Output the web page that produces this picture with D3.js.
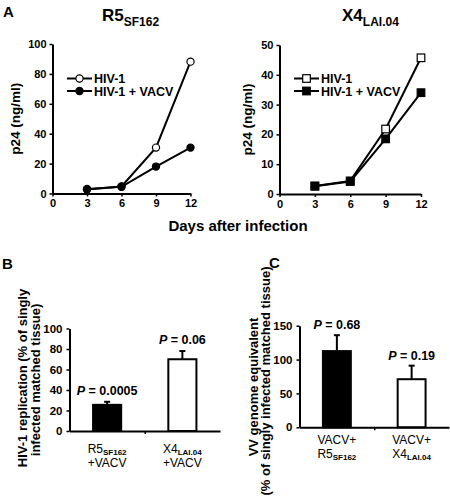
<!DOCTYPE html>
<html><head><meta charset="utf-8">
<script src="https://cdn.jsdelivr.net/npm/d3@7"></script>
<style>
body{margin:0;background:#fff;}
svg{display:block;}
text{font-family:Arial,"Liberation Sans",sans-serif;fill:#000;}
</style></head>
<body><svg id="c" width="450" height="496"></svg>
<script>
// ---------- DATA ----------
const days = [3, 6, 9, 12];
const xTicks = [0, 3, 6, 9, 12];
const r5HIV = [2.7, 4.7, 30.7, 88.2];
const r5HIVVACV = [3, 4.5, 18, 30.7];
const r5YTicks = [0, 20, 40, 60, 80, 100];
const x4HIV = [2.7, 4.4, 21.8, 45.7];
const x4HIVVACV = [2.6, 4.2, 18.5, 34];
const x4YTicks = [0, 10, 20, 30, 40, 50];
const legendLabels = ["HIV-1", "HIV-1 + VACV"];

const bCats = ["R5", "X4"];
const bValues = [25.5, 70];
const bErrors = [28.5, 78];
const bPLabels = ["0.0005", "0.06"];
const bYTicks = [0, 20, 40, 60, 80, 100];

const cCats = ["R5", "X4"];
const cValues = [112.5, 71];
const cErrors = [136, 91];
const cPLabels = ["0.68", "0.19"];
const cYTicks = [0, 50, 100, 150];

const svg = d3.select("#c");
const BOLD = "bold";

function styleAxis(g){
  g.selectAll("path.domain").attr("stroke","#000").attr("stroke-width",2);
  g.selectAll(".tick line").attr("stroke","#000").attr("stroke-width",1.5);
  g.selectAll(".tick text").attr("font-size",11).attr("font-weight",BOLD)
    .style("font-family","Arial, 'Liberation Sans', sans-serif");
}

function subText(sel, x, y, main, sub, size, subSize, anchor, weight){
  const t = sel.append("text").attr("x",x).attr("y",y)
    .attr("font-size",size).attr("font-weight",weight||BOLD)
    .attr("text-anchor",anchor||"middle");
  t.append("tspan").text(main);
  t.append("tspan").attr("font-size",subSize).attr("dy",size*0.3).text(sub);
  return t;
}

// ---------- PANEL A ----------
function linePanel(opts){
  const x = d3.scaleLinear().domain([0,12]).range(opts.xr);
  const y = d3.scaleLinear().domain([0,opts.ymax]).range(opts.yr);
  const g = svg.append("g");
  g.append("g").attr("transform",`translate(0,${opts.yr[0]})`)
    .call(d3.axisBottom(x).tickValues(xTicks).tickSizeInner(3).tickSizeOuter(0).tickPadding(3))
    .call(styleAxis);
  g.append("g").attr("transform",`translate(${opts.xr[0]},0)`)
    .call(d3.axisLeft(y).tickValues(opts.yTicks).tickSizeInner(3).tickSizeOuter(0).tickPadding(3))
    .call(styleAxis);
  const line = d3.line().x((d,i)=>x(days[i])).y(d=>y(d));
  const series = [{v:opts.s1, fill:"#fff"},{v:opts.s2, fill:"#000"}];
  series.forEach(s=>{
    g.append("path").datum(s.v).attr("d",line).attr("fill","none")
      .attr("stroke","#000").attr("stroke-width",2);
  });
  function marker(sel, cx, cy, fill){
    if(opts.shape==="circle"){
      sel.append("circle").attr("cx",cx).attr("cy",cy).attr("r",3.6)
        .attr("fill",fill).attr("stroke","#000").attr("stroke-width",1.2);
    } else {
      sel.append("rect").attr("x",cx-3.8).attr("y",cy-3.8).attr("width",7.6).attr("height",7.6)
        .attr("fill",fill).attr("stroke","#000").attr("stroke-width",1.2);
    }
  }
  series.forEach(s=>{
    s.v.forEach((d,i)=>marker(g, x(days[i]), y(d), s.fill));
  });
  const lx0 = opts.xr[0]+14.5, lx1 = lx0+25;
  [[legendLabels[0],"#fff",78.5],[legendLabels[1],"#000",91]].forEach(([lab,f,ly])=>{
    g.append("line").attr("x1",lx0).attr("x2",lx1).attr("y1",ly).attr("y2",ly)
      .attr("stroke","#000").attr("stroke-width",2);
    marker(g,(lx0+lx1)/2,ly,f);
    g.append("text").attr("x",lx1+2).attr("y",ly+4.5).attr("font-size",12.5)
      .attr("font-weight",BOLD).text(lab);
  });
  g.append("text").attr("transform",`translate(${opts.ylx},${(opts.yr[0]+opts.yr[1])/2}) rotate(-90)`)
    .attr("text-anchor","middle").attr("font-size",13.5).attr("font-weight",BOLD).text("p24 (ng/ml)");
  subText(g, opts.titleX, 21, opts.title, opts.titleSub, 17, 12, "start");
}

linePanel({xr:[52.5,190.5], yr:[193.5,44], ymax:100, yTicks:r5YTicks, s1:r5HIV, s2:r5HIVVACV,
  shape:"circle", ylx:20, titleX:102, title:"R5", titleSub:"SF162"});
linePanel({xr:[279.5,421], yr:[194,45], ymax:50, yTicks:x4YTicks, s1:x4HIV, s2:x4HIVVACV,
  shape:"square", ylx:252, titleX:342, title:"X4", titleSub:"LAI.04"});

svg.append("text").attr("x",3).attr("y",17).attr("font-size",15).attr("font-weight",BOLD).text("A");
svg.append("text").attr("x",238).attr("y",231).attr("text-anchor","middle")
  .attr("font-size",15).attr("font-weight",BOLD).text("Days after infection");
svg.append("text").attr("x",2).attr("y",269).attr("font-size",15).attr("font-weight",BOLD).text("B");
svg.append("text").attr("x",269).attr("y",268).attr("font-size",15).attr("font-weight",BOLD).text("C");

// ---------- BAR PANELS ----------
function barPanel(opts){
  const x = d3.scaleBand().domain(opts.cats).range(opts.xr).paddingInner(0.6).paddingOuter(0.3);
  const y = d3.scaleLinear().domain([0,opts.ymax]).range(opts.yr);
  const g = svg.append("g");
  const fills = ["#000","#fff"];
  opts.cats.forEach((c,i)=>{
    const cx = x(c)+x.bandwidth()/2;
    g.append("line").attr("x1",cx).attr("x2",cx).attr("y1",y(opts.values[i])).attr("y2",y(opts.errors[i]))
      .attr("stroke","#000").attr("stroke-width",2);
    g.append("line").attr("x1",cx-3).attr("x2",cx+3).attr("y1",y(opts.errors[i])).attr("y2",y(opts.errors[i]))
      .attr("stroke","#000").attr("stroke-width",2);
    g.append("rect").attr("x",x(c)+1).attr("width",x.bandwidth()-2)
      .attr("y",y(opts.values[i])).attr("height",y(0)-y(opts.values[i]))
      .attr("fill",fills[i]).attr("stroke","#000").attr("stroke-width",2);
    const pt = g.append("text").attr("x",cx).attr("y",y(opts.errors[i])-opts.pGap)
      .attr("text-anchor","middle").attr("font-size",12.5).attr("font-weight",BOLD);
    pt.append("tspan").attr("font-style","italic").text("P");
    pt.append("tspan").text(" = "+opts.pLabels[i]);
  });
  g.append("g").attr("transform",`translate(0,${opts.yr[0]})`)
    .call(d3.axisBottom(d3.scaleLinear().domain([0,1]).range(opts.xr)).tickValues([0.5]).tickSizeInner(3).tickSizeOuter(0).tickFormat(""))
    .call(styleAxis);
  g.append("g").attr("transform",`translate(${opts.xr[0]},0)`)
    .call(d3.axisLeft(y).tickValues(opts.yTicks).tickSizeInner(3).tickSizeOuter(0).tickPadding(4))
    .call(g2=>{styleAxis(g2); g2.selectAll(".tick text").attr("font-size",11.5);});
  opts.yLabel.forEach((t,i)=>{
    g.append("text").attr("transform",`translate(${opts.ylx[i]},${opts.yly[i]}) rotate(-90)`)
      .attr("text-anchor","middle").attr("font-size",13).attr("font-weight",BOLD).text(t);
  });
  opts.catLabels.forEach((lines,i)=>{
    const cx = x(opts.cats[i])+x.bandwidth()/2;
    lines.forEach((ln,j)=>{
      const yy = opts.catY + j*14;
      const t = g.append("text").attr("x",cx).attr("y",yy).attr("text-anchor","middle").attr("font-size",12);
      t.append("tspan").text(ln.main);
      if(ln.sub){
        t.append("tspan").attr("font-size",8).attr("font-weight",BOLD).attr("dy",2).text(ln.sub);
      }
    });
  });
}

barPanel({cats:bCats, values:bValues, errors:bErrors, pLabels:bPLabels, yTicks:bYTicks, ymax:100,
  xr:[69.5,220], yr:[431,328.5], pGap:7,
  yLabel:["HIV-1 replication (% of singly","infected matched tissue)"], ylx:[27,40], yly:[378,380],
  catY:453, catLabels:[[{main:"R5",sub:"SF162"},{main:"+VACV"}],[{main:"X4",sub:"LAI.04"},{main:"+VACV"}]]});

barPanel({cats:cCats, values:cValues, errors:cErrors, pLabels:cPLabels, yTicks:cYTicks, ymax:150,
  xr:[299.5,449], yr:[427.3,325.7], pGap:6,
  yLabel:["VV genome equivalent","(% of singly infected matched tissue)"], ylx:[258,270], yly:[387,381],
  catY:444, catLabels:[[{main:"VACV+"},{main:"R5",sub:"SF162"}],[{main:"VACV+"},{main:"X4",sub:"LAI.04"}]]});
</script></body></html>
